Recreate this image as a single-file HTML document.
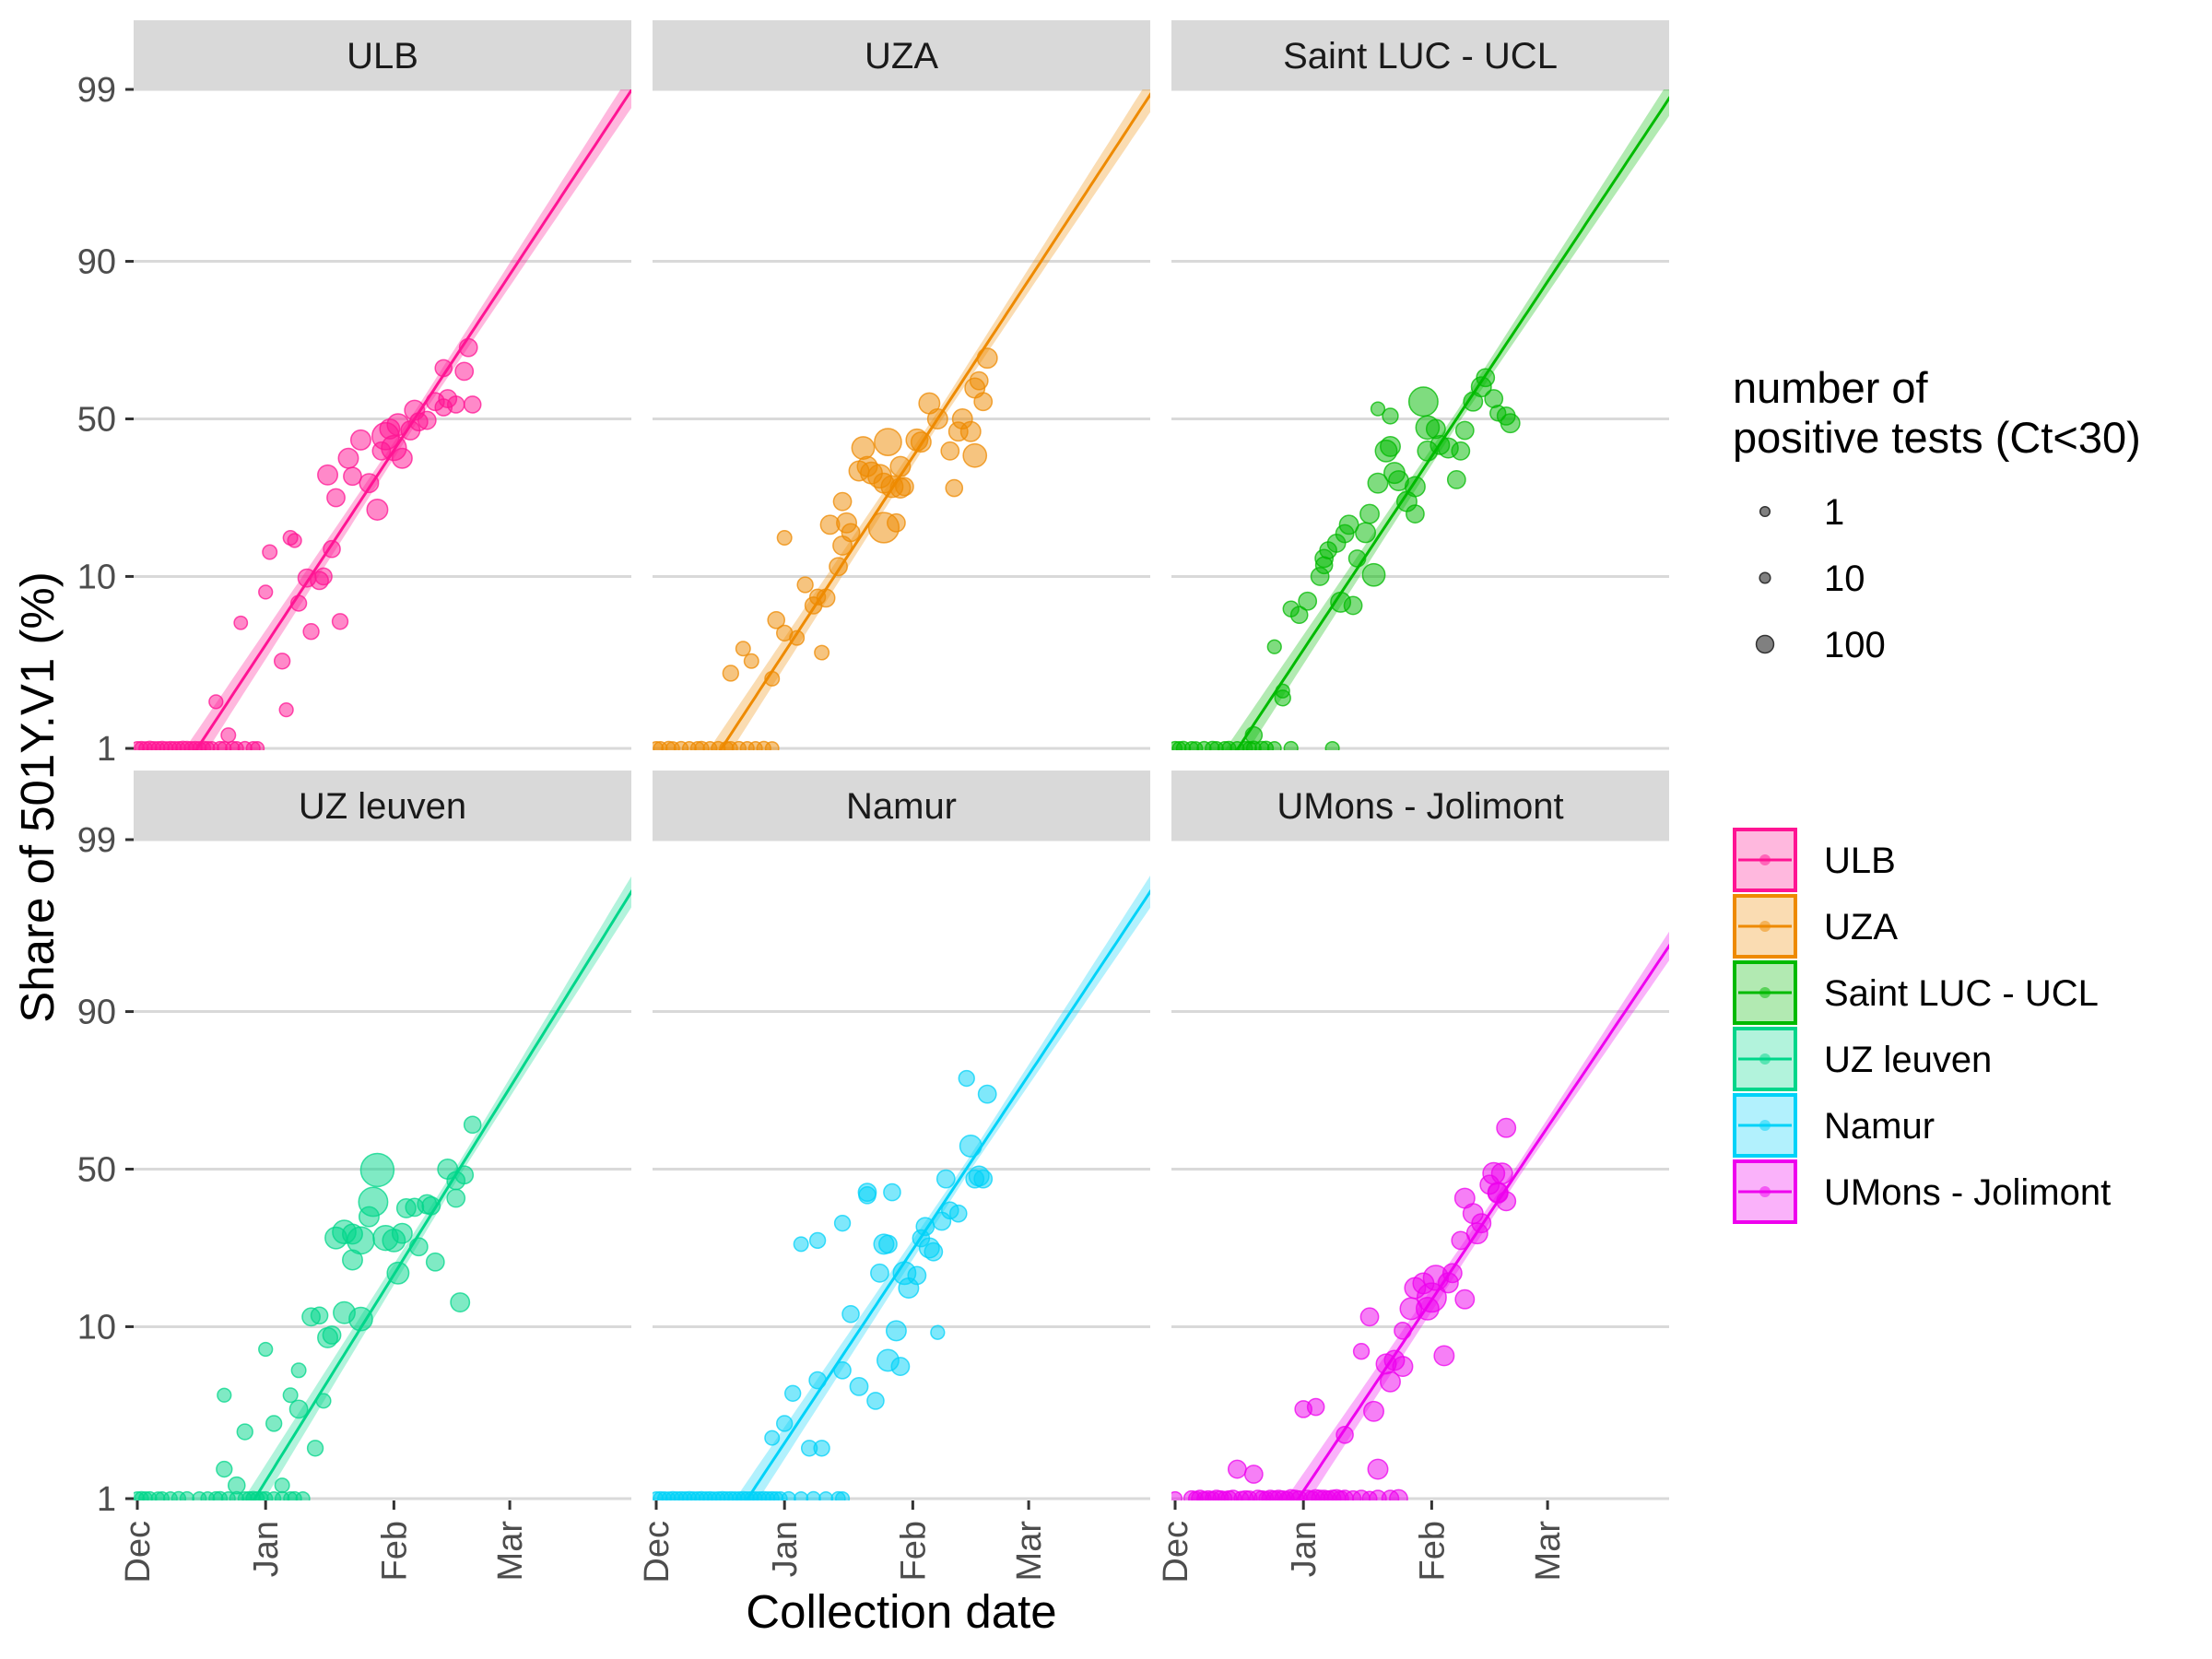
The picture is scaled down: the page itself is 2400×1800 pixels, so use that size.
<!DOCTYPE html>
<html><head><meta charset="utf-8">
<style>
html,body{margin:0;padding:0;background:#fff;}
svg{display:block;font-family:"Liberation Sans",Arial,sans-serif;}
</style></head>
<body>
<svg id="chart" width="2400" height="1800" viewBox="0 0 2400 1800" xmlns="http://www.w3.org/2000/svg">
<defs>
<clipPath id="cp0"><rect x="145" y="97" width="540" height="717"/></clipPath>
<clipPath id="cp1"><rect x="708" y="97" width="540" height="717"/></clipPath>
<clipPath id="cp2"><rect x="1271" y="97" width="540" height="717"/></clipPath>
<clipPath id="cp3"><rect x="145" y="911" width="540" height="717"/></clipPath>
<clipPath id="cp4"><rect x="708" y="911" width="540" height="717"/></clipPath>
<clipPath id="cp5"><rect x="1271" y="911" width="540" height="717"/></clipPath>
</defs>
<g id="panels"></g>
<text transform="translate(58,865) rotate(-90)" text-anchor="middle" font-size="51" fill="#000">Share of 501Y.V1 (%)</text>
<text x="978" y="1766" text-anchor="middle" font-size="51" fill="#000">Collection date</text>
<g id="legend">
<text x="1880" y="437" font-size="47" fill="#000">number of</text>
<text x="1880" y="491" font-size="47" fill="#000">positive tests (Ct&lt;30)</text>
</g>
</svg>
<script>
const hospitals = ["ULB","UZA","Saint LUC - UCL","UZ leuven","Namur","UMons - Jolimont"];
const colors = ["#FF1493","#EE8A00","#00BA00","#00D68A","#00D2F8","#EE00EE"];
const fitMid = [67, 68, 68, 77.8, 74.9, 83.2];
const fitSlope = [0.0875, 0.088, 0.087, 0.093, 0.087, 0.086];
const yTicks = [1, 10, 50, 90, 99];
const xTickLabels = ["Dec","Jan","Feb","Mar"];
const xTickDays = [0, 31, 62, 90];
const sizeLegendVals = [1, 10, 100];

const ulbDays = [0,1,2,3,4,5,6,7,8,9,10,11,12,13,14,15,16,17,18,20,21,23,24,26,28,29,19,22,25,31,32,37,38,35,36,39,41,42,44,45,47,49,48,46,51,52,54,56,58,59,61,63,64,66,67,68,70,72,74,75,77,79,81,80,74,60,62];
const ulbPct  = [0,0,0,0,0,0,0,0,0,0,0,0,0,0,0,0,0,0,0,0,0,0,0,0,0,0,1.9,1.2,5.5,8.2,13.5,16,15.5,3.3,1.7,7.1,9.8,4.9,9.5,10,14,5.6,25,31.4,36.6,31,42.7,29,22,39,46.5,48,36.6,46,53,49,49.5,56,54,57,55,66,55,73,67,44,40];
const ulbN    = [3,5,2,8,4,3,6,2,5,4,3,8,6,4,5,3,7,4,3,5,4,6,3,5,4,3,5,10,2,5,10,10,5,20,5,20,40,20,40,30,30,20,40,60,60,40,60,50,70,40,60,80,60,50,60,40,40,40,30,40,30,40,30,40,30,150,120];

const uzaDays = [0,1,3,4,6,8,10,11,13,15,17,18,20,22,24,26,28,18,21,23,29,28,31,31,34,36,38,39,40,41,44,45,46,47,45,42,49,50,51,52,54,55,56,55,58,57,59,60,59,63,64,66,68,71,72,73,74,76,77,77,79,80,78];
const uzaPct  = [0,0,0,0,0,0,0,0,0,0,0,0,0,0,0,0,0,2.8,3.9,3.3,5.7,2.6,16,4.8,4.5,9,6.9,7.7,3.7,7.6,11.3,14.6,19,17,24,18.6,32.6,40,34,32,31,29,42,18,19,28,27.6,28,34,42.7,42,55.4,50,39,27.6,45.6,50,45.6,37.5,60.6,56,70,63];
const uzaN    = [4,3,6,2,5,3,4,6,3,5,4,3,5,4,3,6,2,20,10,10,30,10,10,20,10,20,30,20,10,40,40,50,60,40,40,50,60,90,60,80,100,60,150,200,40,80,60,40,60,80,60,70,60,40,30,50,60,60,100,60,40,60,40];

const slDays = [0,1,2,4,5,7,9,10,12,13,15,17,18,21,22,24,28,38,19,19,24,26,26,28,30,32,35,36,36,37,39,41,42,40,43,44,48,46,47,49,51,52,53,54,56,58,58,60,61,49,52,61,63,64,66,68,69,70,72,74,75,77,78,80,81];
const slPct  = [0,0,0,0,0,0,0,0,0,0,0,0,0,0,0,0,0,0,1.2,1,4,2.2,2,6.6,6.1,7.3,10,12.5,11.5,13.8,15,16.8,18.6,7.2,6.9,12.5,10.2,17,21,29,39,40.5,32,29.7,24,28,21,56,47,53.5,51,39,46.5,41,40,30,39,46,56,61,64,57,52,51,48.5];
const slN    = [5,3,6,4,2,5,7,3,4,6,3,5,4,6,8,3,5,4,30,10,5,5,20,20,30,40,40,40,30,30,40,40,50,60,40,30,90,60,50,60,80,60,70,60,60,60,40,180,100,5,20,60,50,50,60,40,40,40,50,60,40,40,20,40,50];

const uzlDays = [0,1,2,3,5,6,8,10,12,15,17,19,20,22,24,26,27,28,29,30,31,33,35,37,38,40,21,24,21,26,31,33,35,37,39,39,43,45,42,44,46,47,50,48,50,52,52,54,54,56,57,58,60,62,63,64,65,67,68,70,71,72,75,77,78,79,81,77];
const uzlPct  = [0,0,0,0,0,0,0,0,0,0,0,0,0,0,0,0,0,0,0,0,0,0,0,0,0,0,1.5,1.2,4.1,2.5,7.5,2.8,1.2,4.1,5.7,3.4,2,3.8,11.3,11.5,8.7,9,11.9,27.7,29.4,28.8,22,27,11,34,38.8,49.7,27.7,27,19,29,36.7,37,25.3,38,37.5,21.5,50,46,13.5,48,65,40];
const uzlN    = [4,6,3,5,2,4,3,6,5,4,3,5,7,4,6,3,5,8,4,3,5,4,6,3,5,4,20,30,5,20,5,20,10,10,10,40,20,10,40,30,60,40,80,80,100,60,60,150,100,60,180,250,120,90,80,60,50,40,40,50,40,40,60,40,50,40,30,40];

const namDays = [0,1,2,3,4,5,6,7,8,9,10,11,12,13,14,15,16,17,18,19,20,21,22,23,24,25,26,27,28,29,30,32,35,38,41,44,45,28,31,33,35,39,37,40,39,45,45,47,49,51,51,53,54,55,56,57,56,58,59,60,61,63,64,65,66,67,68,69,70,71,73,75,76,77,79,80,78];
const namPct  = [0,0,0,0,0,0,0,0,0,0,0,0,0,0,0,0,0,0,0,0,0,0,0,0,0,0,0,0,0,0,0,0,0,0,0,0,0,2.3,2.8,4.2,26,27,2,2,5,5.7,32,11.7,4.6,41,42,3.8,19,26,26,42,6.5,9.5,6,19,16,18.5,27.6,31,25,24,9.3,32.6,46.6,36,35,78,58,46.6,46.6,74,47.6];
const namN    = [3,5,4,2,6,3,5,4,7,3,4,6,3,5,2,4,6,3,5,4,3,6,4,5,3,4,6,3,5,4,3,5,4,6,3,5,4,10,20,20,10,20,20,20,30,30,20,30,40,30,40,30,40,60,40,30,80,60,40,90,60,40,30,40,60,40,5,40,40,30,30,20,80,40,40,40,60];

const umoDays = [0,4,5,6,7,8,9,10,11,12,13,14,16,17,18,20,21,22,23,24,25,26,27,28,29,30,32,33,34,35,36,37,38,39,40,41,43,45,47,49,52,54,15,19,31,34,41,45,47,48,49,51,52,53,55,55,57,58,60,61,62,63,65,66,67,69,70,70,72,73,74,76,77,78,79,80,80,78];
const umoPct  = [0,0,0,0,0,0,0,0,0,0,0,0,0,0,0,0,0,0,0,0,0,0,0,0,0,0,0,0,0,0,0,0,0,0,0,0,0,0,0,0,0,0,1.5,1.4,3.4,3.5,2.4,7.3,11.3,3.3,1.5,6.2,4.9,6.5,6,9.5,12.5,16,16.9,12.5,14.3,18,6.9,17,19,27,14,40,35,29,32,44.6,48.5,41.7,48.5,39,64,42];
const umoN    = [5,20,10,30,8,20,10,30,20,10,20,30,10,20,15,30,20,10,30,20,30,20,10,40,30,20,30,20,40,30,30,20,30,40,20,30,20,30,10,30,30,40,40,40,30,30,30,20,40,60,60,60,60,60,60,30,80,70,70,90,180,120,60,60,50,40,50,60,60,70,50,50,80,60,70,50,50,60];

const allDays = [ulbDays, uzaDays, slDays, uzlDays, namDays, umoDays];
const allPct  = [ulbPct, uzaPct, slPct, uzlPct, namPct, umoPct];
const allN    = [ulbN, uzaN, slN, uzlN, namN, umoN];

const NS = "http://www.w3.org/2000/svg";
const panelLeft = [145, 708, 1271];
const panelW = 540, PX_PER_DAY = 4.49;
const rowTop = [97, 911], panelH = 717;
const LOGIT_SCALE = 77.8;
function logit(p){ return Math.log(p/(1-p)); }
function xScale(col, day){ return panelLeft[col] + 4 + day * PX_PER_DAY; }
function yScaleLogit(row, l){ const y50 = rowTop[row] + 357.5; return y50 - l * LOGIT_SCALE; }
function yScale(row, pct){ const p = Math.min(Math.max(pct, 1), 99) / 100; return yScaleLogit(row, logit(p)); }
function rSize(n){ return 1.3 * Math.sqrt(29 + 0.65 * n); }
function mk(tag, attrs, parent){ const e = document.createElementNS(NS, tag); for (const k in attrs) e.setAttribute(k, attrs[k]); if (parent) parent.appendChild(e); return e; }

const root = document.getElementById('panels');
for (let i = 0; i < 6; i++) {
  const col = i % 3, row = Math.floor(i / 3);
  const g = mk('g', {}, root);
  
  
  const x0 = panelLeft[col], top = rowTop[row];
  const strip = mk('rect', {x: x0, y: top - 75, width: panelW, height: 75, fill: '#D9D9D9'}, g);
  
  
  const st = mk('text', {x: x0 + panelW/2, y: top - 23, 'text-anchor': 'middle', 'font-size': 40, fill: '#1A1A1A'}, g);
  st.textContent = hospitals[i];
  
  
  yTicks.forEach(v => {
    const y = yScale(row, v);
    const gl = mk('line', {x1: x0, x2: x0 + panelW, y1: y, y2: y, stroke: '#D9D9D9', 'stroke-width': 3}, g);
    
    
  });
  const cg = mk('g', {'clip-path': 'url(#cp' + i + ')'}, g);
  const t0 = fitMid[i] - 5.2 / fitSlope[i];
  const t1 = 122;
  let up = [], lo = [], ln = [];
  for (let t = t0; t <= t1; t += 1) {
    const l = fitSlope[i] * (t - fitMid[i]);
    const se = 0.1 + 0.0028 * Math.abs(t - fitMid[i]);
    up.push(xScale(col, t).toFixed(1) + ',' + yScaleLogit(row, l + se).toFixed(1));
    lo.push(xScale(col, t).toFixed(1) + ',' + yScaleLogit(row, l - se).toFixed(1));
    ln.push(xScale(col, t).toFixed(1) + ',' + yScaleLogit(row, l).toFixed(1));
  }
  const rib = mk('polygon', {points: up.concat(lo.reverse()).join(' '), fill: colors[i], 'fill-opacity': 0.3}, cg);
  
  
  const fl = mk('polyline', {points: ln.join(' '), fill: 'none', stroke: colors[i], 'stroke-width': 3}, cg);
  
  
  const d = allDays[i], pc = allPct[i], nn = allN[i];
  for (let k = 0; k < d.length; k++) {
    const c = mk('circle', {cx: xScale(col, d[k]), cy: yScale(row, pc[k]), r: rSize(nn[k]), fill: colors[i], 'fill-opacity': 0.5, stroke: colors[i], 'stroke-opacity': 0.75, 'stroke-width': 1.5}, cg);
    
    
  }
  if (col === 0) {
    yTicks.forEach(v => {
      const y = yScale(row, v);
      const tk = mk('line', {x1: 136, x2: 145, y1: y, y2: y, stroke: '#333', 'stroke-width': 3}, g);
      
      
      const tl = mk('text', {x: 126, y: y + 13, 'text-anchor': 'end', 'font-size': 38, fill: '#4D4D4D'}, g);
      tl.textContent = v;
      
      
    });
  }
  if (row === 1) {
    const yb = top + panelH;
    xTickDays.forEach((dd, j) => {
      const x = xScale(col, dd);
      const tk = mk('line', {x1: x, x2: x, y1: yb, y2: yb + 10, stroke: '#333', 'stroke-width': 3}, g);
      
      
      const tl = mk('text', {transform: 'translate(' + (x + 13) + ',' + (yb + 22) + ') rotate(-90)', 'text-anchor': 'end', 'font-size': 38, fill: '#4D4D4D'}, g);
      tl.textContent = xTickLabels[j];
      
      
    });
  }
}

const lg = document.getElementById('legend');
sizeLegendVals.forEach((v, j) => {
  const y = 555 + j * 72;
  const c = mk('circle', {cx: 1915, cy: y, r: rSize(v) * 0.75, fill: '#555', 'fill-opacity': 0.75, stroke: '#333', 'stroke-width': 1.5}, lg);
  
  
  const t = mk('text', {x: 1979, y: y + 14, 'font-size': 40, fill: '#000'}, lg);
  t.textContent = v;
  
  
});
hospitals.forEach((h, j) => {
  const cy = 933 + j * 72;
  const key = mk('g', {}, lg);
  
  
  mk('rect', {x: 1882, y: cy - 33, width: 66, height: 66, fill: colors[j], 'fill-opacity': 0.3, stroke: colors[j], 'stroke-width': 4}, key);
  mk('line', {x1: 1886, x2: 1944, y1: cy, y2: cy, stroke: colors[j], 'stroke-width': 3}, key);
  mk('circle', {cx: 1915, cy: cy, r: 6, fill: colors[j], 'fill-opacity': 0.5}, key);
  const t = mk('text', {x: 1979, y: cy + 14, 'font-size': 40, fill: '#000'}, key);
  t.textContent = h;
});
</script>
</body></html>
